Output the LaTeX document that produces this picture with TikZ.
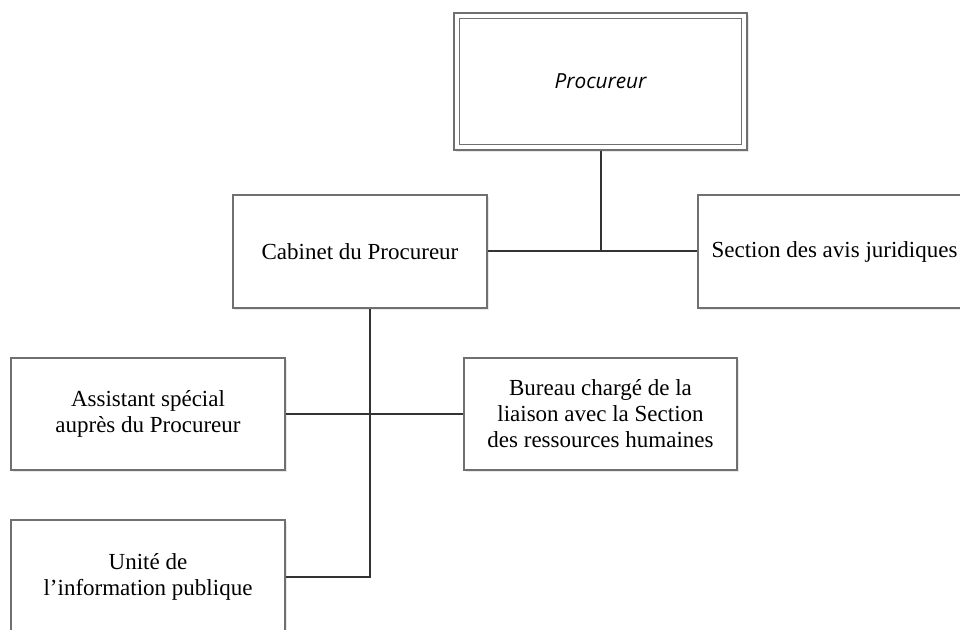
\documentclass[tikz,border=0pt]{standalone}
\usepackage{fontspec}
\setmainfont{Liberation Serif}
\newfontfamily\headfont{Open Sans}
\usetikzlibrary{shadows,calc}
\definecolor{boxline}{HTML}{707070}
\definecolor{conn}{HTML}{333333}
\tikzset{
  box/.style={draw=boxline, line width=1.1pt, fill=white, align=center,
    inner sep=0pt, font=\fontsize{17.25}{19.5}\selectfont,
    drop shadow={opacity=0.18, shadow xshift=1.2pt, shadow yshift=-1.2pt}},
  link/.style={draw=conn, line width=1.5pt}
}
\begin{document}
\begin{tikzpicture}[x=0.75pt, y=-0.75pt]
\useasboundingbox (0,0) rectangle (960,630);
\clip (0,0) rectangle (960,630);
\fill[white] (0,0) rectangle (960,630);
% boxes
\node[box, minimum width=219.75pt, minimum height=102.75pt,
  font=\headfont\itshape\fontsize{15.6}{18}\selectfont] (P) at (600.5,81.5) {Procureur};
\draw[draw=boxline, line width=1.1pt] ([shift={(4.5pt,-4.5pt)}]P.north west) rectangle ([shift={(-4.5pt,4.5pt)}]P.south east);
\node[box, minimum width=190.5pt, minimum height=84.75pt] (C) at (360,251.5) {Cabinet du Procureur};
\node[box, minimum width=204.75pt, minimum height=84.75pt] (S) at (834.5,251.5) {Section des avis juridiques};
\node[box, minimum width=205.5pt, minimum height=84pt] (A) at (148,414) {Assistant spécial\\ auprès du Procureur};
\node[box, minimum width=204.75pt, minimum height=84pt] (B) at (600.5,414) {Bureau chargé de la\\liaison avec la Section\\des ressources humaines};
\node[box, minimum width=205.5pt, minimum height=84.75pt] (U) at (148,576.5) {Unité de\\l’information publique};
% connectors
\coordinate (v) at (370,0);
\draw[link] (P.south) -- (P.south |- C.east);
\draw[link] (C.east) -- (S.west);
\draw[link] (C.south -| v) -- (v |- U.east) -- (U.east);
\draw[link] (A.east) -- (B.west);
\end{tikzpicture}
\end{document}
